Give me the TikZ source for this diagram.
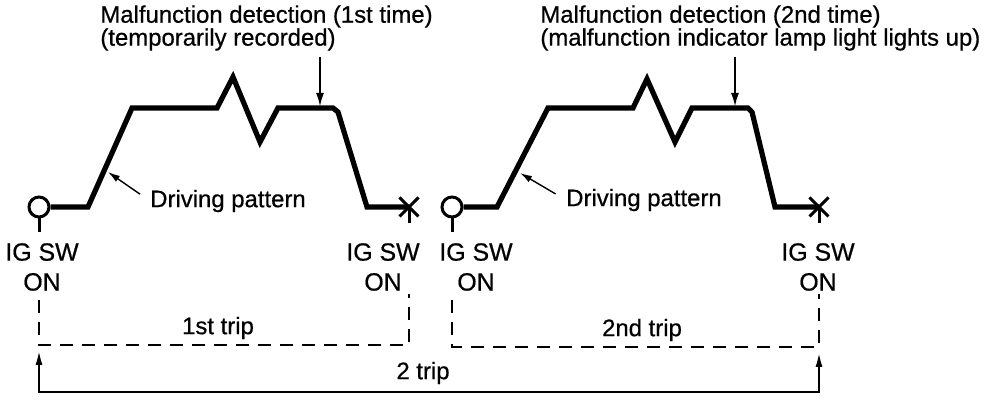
\documentclass[tikz,border=0pt]{standalone}
\usepackage{fontspec}
\setmainfont{Liberation Sans}[FakeBold=0.6]
\usetikzlibrary{arrows.meta,shapes.misc}
\def\swon{\node[circle,draw,line width=1.5bp,minimum size=10bp,inner sep=0pt]}
\def\swoff{\node[cross out,draw,line width=1.5bp,minimum size=8bp,inner sep=0pt]}

\begin{document}
\begin{tikzpicture}[x=0.5bp,y=-0.5bp,
  drive/.style={line width=2.6bp,line join=miter},
  stem/.style={line width=1.5bp},
  tripline/.style={line width=1.3bp,dash pattern=on 6.5bp off 4.5bp},
  txt/.style={inner sep=0pt,align=left,font=\fontsize{12}{11.5}\selectfont},
  sw/.style={inner sep=0pt,align=center,font=\fontsize{12.5}{15}\selectfont},
  pointer/.style={line width=0.7bp,-{Latex[length=6bp,width=3.5bp]}},
  detect/.style={line width=1.1bp,-{Latex[length=7bp,width=4bp]}},
  bracket/.style={line width=1.3bp,{Latex[length=8bp,width=3.5bp]}-{Latex[length=8bp,width=3.5bp]}}]
\useasboundingbox (0,0) rectangle (1008,404);
% first trip
\swon (on1) at (39,207) {};
\swoff (off1) at (409,207) {};
\draw[drive] (on1.east) -- (88,207) -- (132,108) -- (217,108) -- (233,77)
  -- (260,142) -- (278,108) -- (333,108) -- (338,112) -- (367,207) -- (off1.center);
\draw[stem] (on1.south) -- (39,232);
\draw[stem] (off1.center) -- (409,223);
\node[txt,anchor=north west] (det1) at (100,5)
  {Malfunction detection (1st time)\\(temporarily recorded)};
\coordinate (hit1) at (320,107);
\draw[detect,shorten <=3bp] (hit1 |- det1.south) -- (hit1);
\node[txt] (drv1) at (228,201) {Driving pattern};
\coordinate (dp1) at (108,172);
\draw[pointer,shorten <=6bp] (drv1.west) -- (dp1);
\node[sw] (ig1) at (42,267) {IG SW\\ON};
\node[sw] (ig2) at (383,267) {IG SW\\ON};
% second trip
\swon (on2) at (452,207) {};
\swoff (off2) at (819,207) {};
\draw[drive] (on2.east) -- (497,207) -- (548,108) -- (633,108) -- (647,79)
  -- (675,142) -- (692,108) -- (748,108) -- (752,112) -- (775,207) -- (off2.center);
\draw[stem] (on2.south) -- (452,232);
\draw[stem] (off2.center) -- (819,223);
\node[txt,anchor=north west] (det2) at (540,5)
  {Malfunction detection (2nd time)\\(malfunction indicator lamp light lights up)};
\coordinate (hit2) at (735,107);
\draw[detect,shorten <=3bp] (hit2 |- det2.south) -- (hit2);
\node[txt] (drv2) at (644,200) {Driving pattern};
\coordinate (dp2) at (520,173);
\draw[pointer,shorten <=6bp] (drv2.west) -- (dp2);
\node[sw] (ig3) at (476,267) {IG SW\\ON};
\node[sw] (ig4) at (818,267) {IG SW\\ON};
% trips
\coordinate (a1) at (39,345);
\coordinate (a2) at (409,345);
\coordinate (b1) at (452,347);
\coordinate (b2) at (819,347);
\draw[tripline] (39,300) -- (a1) -- (a2) -- (409,294);
\draw[tripline] (452,300) -- (b1) -- (b2) -- (819,294);
\node[txt] (trip1) at (218,328) {1st trip};
\node[txt] (trip2) at (642,330) {2nd trip};
\coordinate (c1) at (39,392);
\coordinate (c2) at (819,392);
\draw[bracket] (39,349) -- (c1) -- (c2) -- (819,351);
\node[txt] (trip3) at (423,373) {2 trip};
\end{tikzpicture}
\end{document}
